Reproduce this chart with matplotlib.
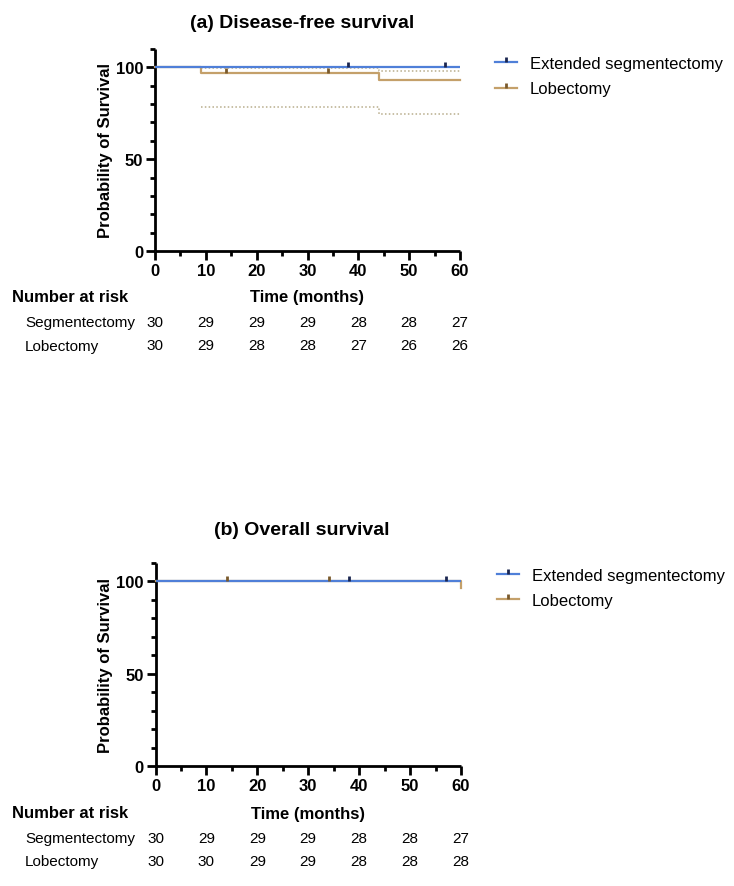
import matplotlib
matplotlib.use("Agg")
import matplotlib.pyplot as plt
from matplotlib.path import Path
from matplotlib.lines import Line2D
from matplotlib.transforms import blended_transform_factory

plt.rcParams['font.family'] = ['Liberation Sans', 'DejaVu Sans']

# ---- data ----
months = [0, 10, 20, 30, 40, 50, 60]
group_labels = ["Extended segmentectomy", "Lobectomy"]
risk_row_labels = ["Segmentectomy", "Lobectomy"]

# (a) Disease-free survival
dfs_seg_t = [0, 60]
dfs_seg_s = [100, 100]
dfs_seg_cens = [38, 57]
dfs_lob_t = [0, 9, 44, 60]
dfs_lob_s = [100, 96.7, 93.2, 93.2]
dfs_lob_cens = [14, 34]
dfs_lob_ci_t = [9, 44, 60]
dfs_lob_ci_hi = [99.4, 98.0, 98.0]
dfs_lob_ci_lo = [78.2, 74.8, 74.8]
dfs_risk_seg = [30, 29, 29, 29, 28, 28, 27]
dfs_risk_lob = [30, 29, 28, 28, 27, 26, 26]

# (b) Overall survival
os_seg_t = [0, 60]
os_seg_s = [100, 100]
os_seg_cens = [38, 57]
os_lob_t = [0, 60, 60]
os_lob_s = [100, 100, 96.3]
os_lob_cens = [14, 34]
os_risk_seg = [30, 29, 29, 29, 28, 28, 27]
os_risk_lob = [30, 30, 29, 29, 28, 28, 28]

# ---- style ----
BLUE = '#4f7fd8'
BLUE_MK = '#1b2650'
TAN = '#c4a06a'
TAN_MK = '#7a5a2c'
CI_COL = '#b8ad8c'
W, H = 734, 887
up_tick = Path([(0, 0), (0, 1)])

fig = plt.figure(figsize=(W / 100, H / 100), dpi=100)


def fx(x):
    return x / W


def fy(y):
    return 1 - y / H


def make_axes(left, right, top, bottom):
    return fig.add_axes([fx(left), fy(bottom), (right - left) / W, (bottom - top) / H])


def surv_value(t, s, x):
    v = s[0]
    for ti, si in zip(t, s):
        if ti <= x:
            v = si
    return v


def panel(ax, title, seg_t, seg_s, seg_c, lob_t, lob_s, lob_c, ci, risk_seg, risk_lob,
          title_y, risk_y, row_gap, leg_x, leg_y):
    if ci is not None:
        ct, chi, clo = ci
        ax.step(ct, chi, where='post', color=CI_COL, lw=1.1, ls=(0, (1, 1.5)), zorder=2)
        ax.step(ct, clo, where='post', color=CI_COL, lw=1.1, ls=(0, (1, 1.5)), zorder=2)
    ax.step(lob_t, lob_s, where='post', color=TAN, lw=1.6, zorder=3, clip_on=False)
    ax.plot(lob_c, [surv_value(lob_t, lob_s, c) for c in lob_c], ls='none',
            marker=up_tick, ms=7, mew=2.0, mec=TAN_MK, zorder=5)
    ax.step(seg_t, seg_s, where='post', color=BLUE, lw=1.6, zorder=4)
    ax.plot(seg_c, [surv_value(seg_t, seg_s, c) for c in seg_c], ls='none',
            marker=up_tick, ms=7, mew=2.0, mec=BLUE_MK, zorder=5)

    ax.set_xlim(0, 60)
    ax.set_ylim(0, 110)
    ax.set_xticks(months)
    ax.set_xticks(range(0, 61, 5), minor=True)
    ax.set_yticks([0, 50, 100])
    ax.set_yticks(range(0, 111, 10), minor=True)
    for s in ['top', 'right']:
        ax.spines[s].set_visible(False)
    for s in ['left', 'bottom']:
        ax.spines[s].set_linewidth(2)
        ax.spines[s].set_capstyle('butt')
    ax.tick_params(which='major', length=6.5, width=2, labelsize=12, pad=2)
    ax.tick_params(which='minor', length=3.5, width=2)
    for lab in ax.get_xticklabels() + ax.get_yticklabels():
        lab.set_fontweight('bold')
    ax.set_ylabel('Probability of Survival', fontsize=12, fontweight='bold', labelpad=2)
    fig.text(fx(302), fy(title_y), title, fontsize=14, fontweight='bold',
             ha='center', va='center')

    tr = blended_transform_factory(ax.transData, fig.transFigure)
    fig.text(fx(12), fy(risk_y), 'Number at risk', fontsize=12, fontweight='bold', va='center')
    ax.text(30, fy(risk_y), 'Time (months)', transform=tr, fontsize=12, fontweight='bold',
            ha='center', va='center')
    for row, (lab, vals) in enumerate(zip(risk_row_labels, [risk_seg, risk_lob])):
        yy = fy(risk_y + 25 + row * row_gap)
        fig.text(fx(25), yy, lab, fontsize=11, va='center')
        for m, v in zip(months, vals):
            ax.text(m, yy, str(v), transform=tr, fontsize=11, ha='center', va='center')

    handles = [Line2D([0], [0], color=BLUE, lw=1.6, marker=up_tick, ms=7, mew=2, mec=BLUE_MK),
               Line2D([0], [0], color=TAN, lw=1.6, marker=up_tick, ms=7, mew=2, mec=TAN_MK)]
    fig.legend(handles, group_labels, loc='upper left', bbox_to_anchor=(fx(leg_x), fy(leg_y)),
               frameon=False, fontsize=12, handlelength=1.3, handletextpad=0.8,
               labelspacing=0.62, borderaxespad=0, borderpad=0)


ax1 = make_axes(155, 460, 50, 252)
panel(ax1, '(a) Disease-free survival', dfs_seg_t, dfs_seg_s, dfs_seg_cens,
      dfs_lob_t, dfs_lob_s, dfs_lob_cens, (dfs_lob_ci_t, dfs_lob_ci_hi, dfs_lob_ci_lo),
      dfs_risk_seg, dfs_risk_lob, 23, 298, 23.5, 495, 57)

ax2 = make_axes(155.5, 461, 564, 767)
panel(ax2, '(b) Overall survival', os_seg_t, os_seg_s, os_seg_cens,
      os_lob_t, os_lob_s, os_lob_cens, None,
      os_risk_seg, os_risk_lob, 531, 814, 23, 497, 569)

fig.savefig('out.png', dpi=100)
